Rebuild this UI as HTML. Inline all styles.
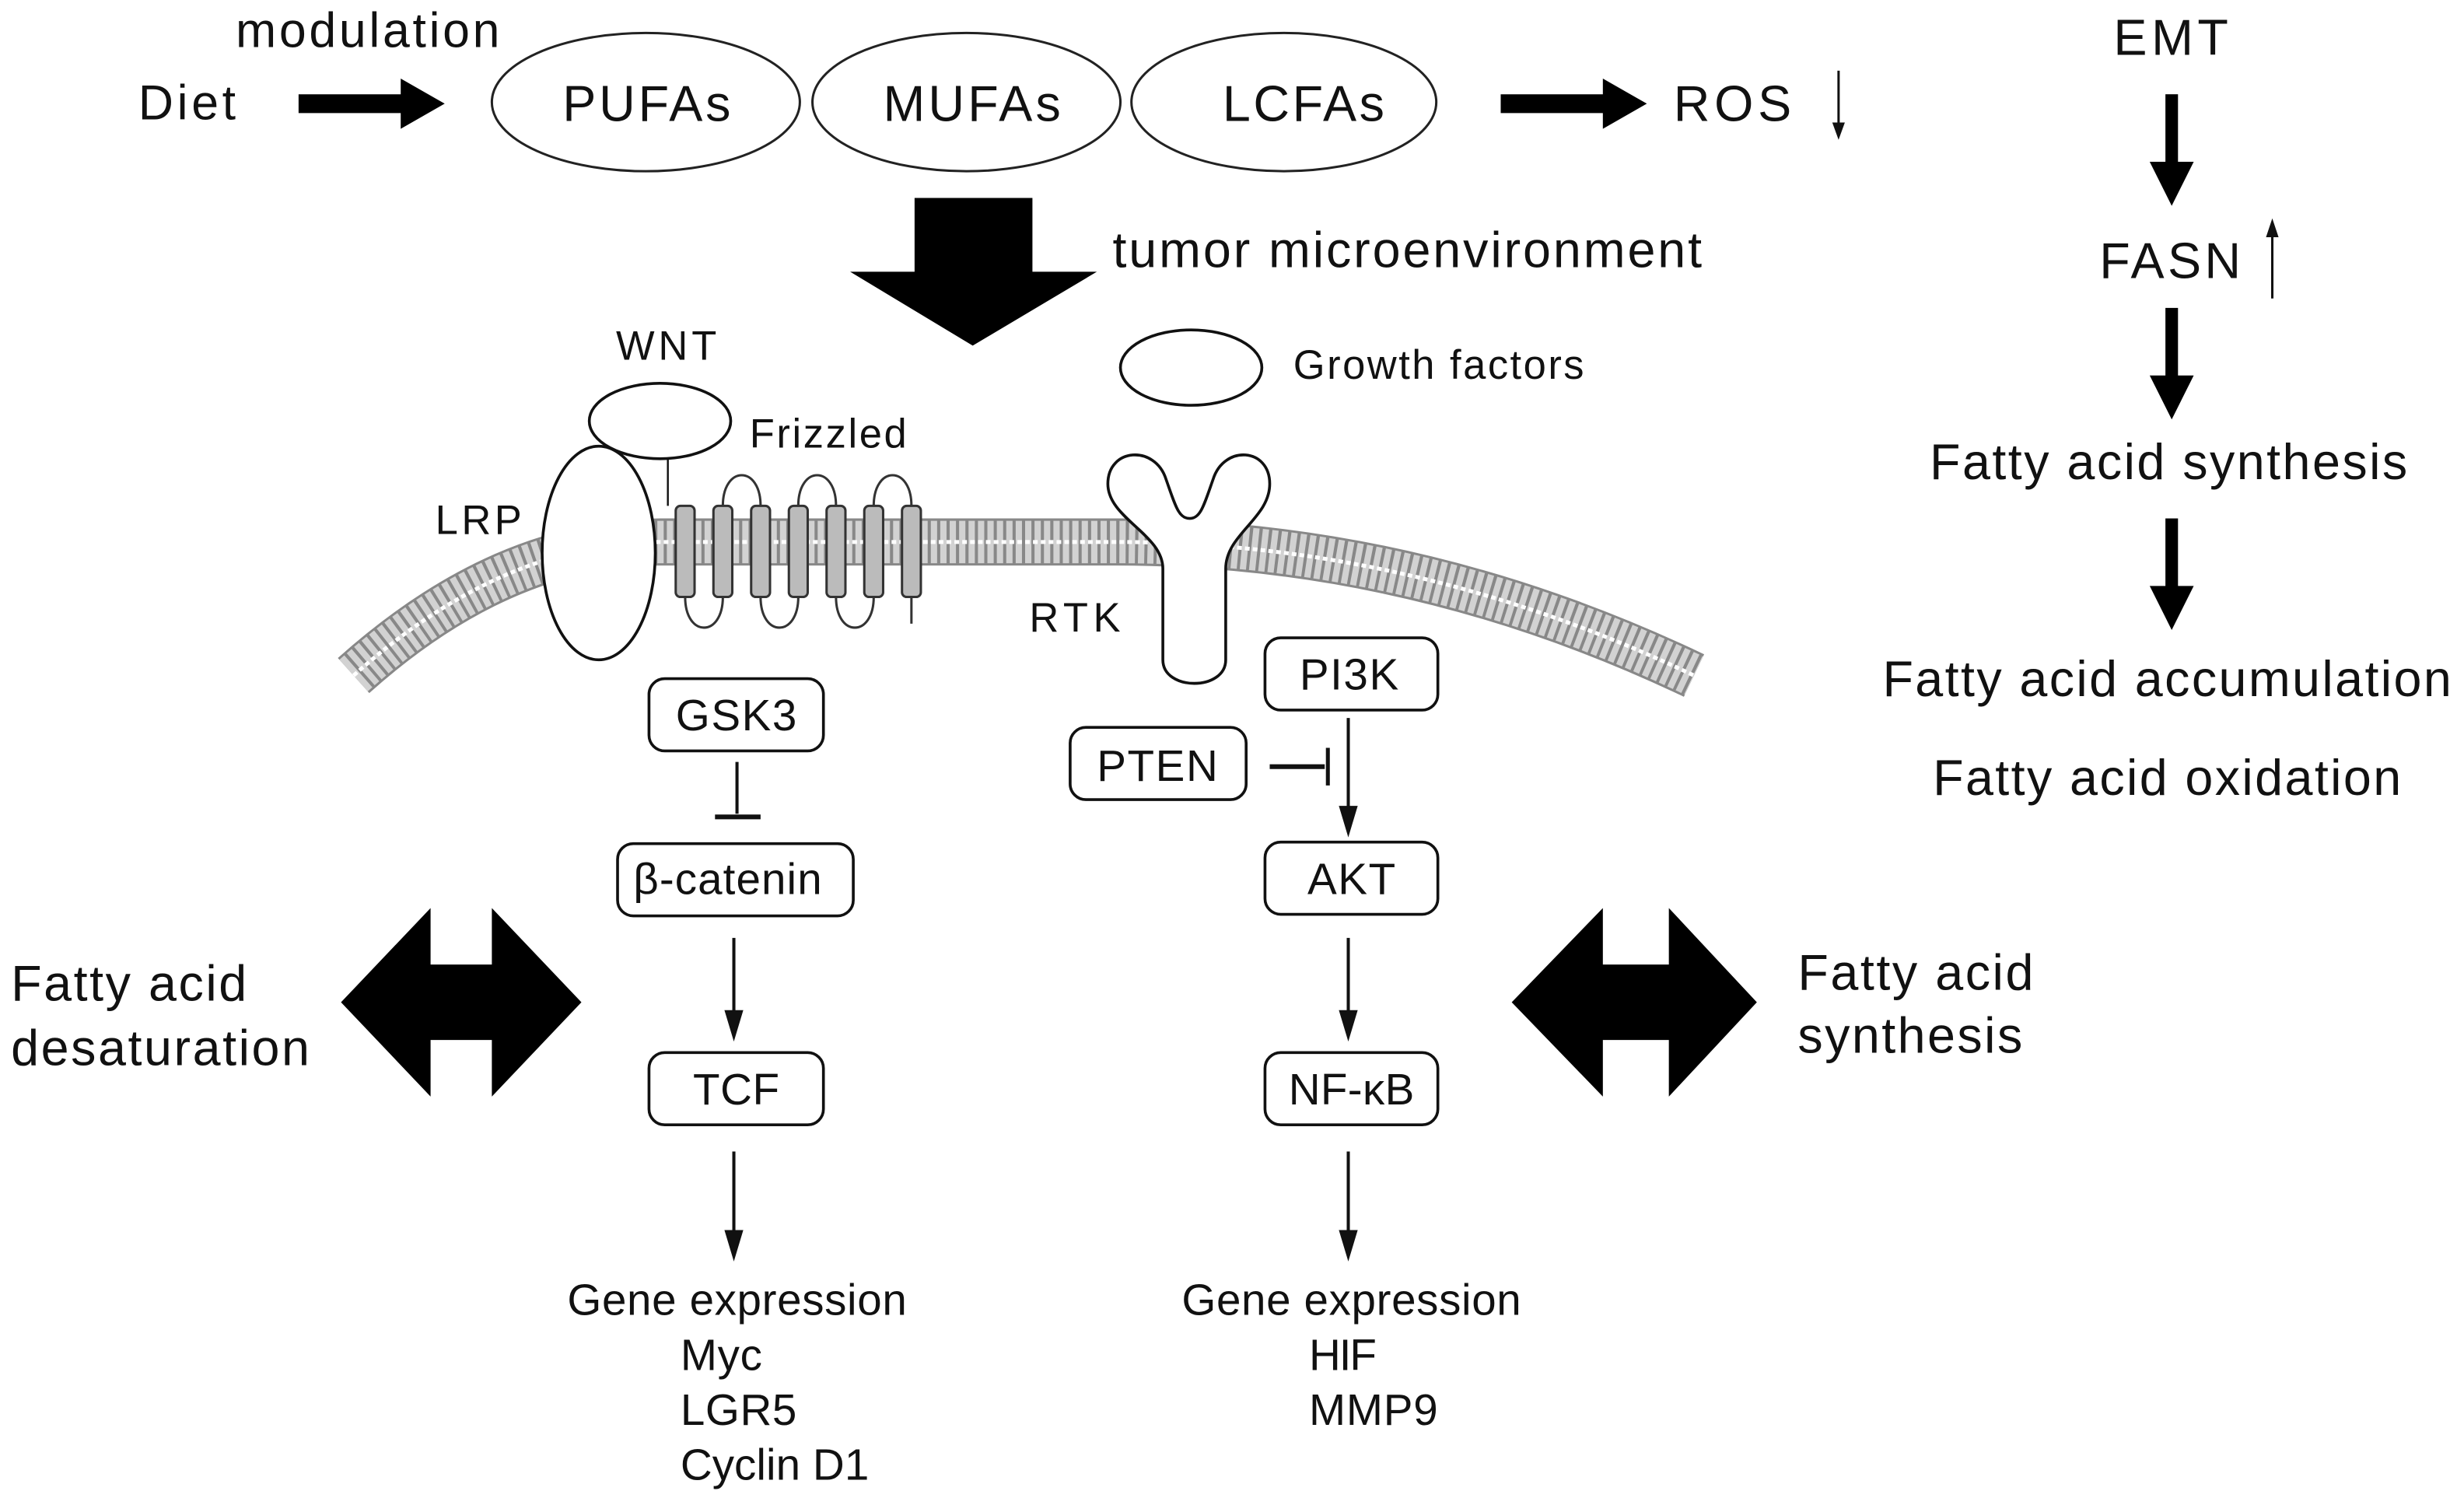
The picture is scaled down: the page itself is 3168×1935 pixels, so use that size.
<!DOCTYPE html>
<html><head><meta charset="utf-8"><style>
html,body{margin:0;padding:0;background:#fff;}
svg{display:block;}
text{font-family:"Liberation Sans",sans-serif;fill:#111;}
</style></head><body>
<svg width="3168" height="1935" viewBox="0 0 1568 958" preserveAspectRatio="none" xmlns="http://www.w3.org/2000/svg">
<rect width="1568" height="958" fill="#fff"/>
<!-- top row -->
<text x="150" y="30" font-size="31" textLength="168">modulation</text>
<text x="88" y="76" font-size="31" textLength="62">Diet</text>
<polygon points="190,60 255,60 255,50 283,66 255,82 255,72 190,72" fill="#000"/>
<ellipse cx="411" cy="65" rx="98" ry="44" fill="none" stroke="#222" stroke-width="1.5"/>
<ellipse cx="615" cy="65" rx="98" ry="44" fill="none" stroke="#222" stroke-width="1.5"/>
<ellipse cx="817" cy="65" rx="97" ry="44" fill="none" stroke="#222" stroke-width="1.5"/>
<text x="358" y="77" font-size="32" textLength="107">PUFAs</text>
<text x="562" y="77" font-size="32" textLength="113">MUFAs</text>
<text x="778" y="77" font-size="32" textLength="103">LCFAs</text>
<polygon points="955,60 1020,60 1020,50 1048,66 1020,82 1020,72 955,72" fill="#000"/>
<text x="1065" y="77" font-size="32" textLength="75">ROS</text>
<line x1="1170" y1="45" x2="1170" y2="86" stroke="#111" stroke-width="1.5"/>
<polygon points="1166,78 1174,78 1170,89" fill="#111"/>
<!-- right column -->
<text x="1345" y="35" font-size="32" textLength="73">EMT</text>
<rect x="1378" y="60" width="8" height="45" fill="#000"/><polygon points="1368,103 1396,103 1382,131" fill="#000"/>
<text x="1336" y="177" font-size="32" textLength="90">FASN</text>
<line x1="1446" y1="190" x2="1446" y2="145" stroke="#111" stroke-width="1.5"/>
<polygon points="1442,151 1450,151 1446,139" fill="#111"/>
<rect x="1378" y="196" width="8" height="45" fill="#000"/><polygon points="1368,239 1396,239 1382,267" fill="#000"/>
<text x="1228" y="305" font-size="32" textLength="304">Fatty acid synthesis</text>
<rect x="1378" y="330" width="8" height="45" fill="#000"/><polygon points="1368,373 1396,373 1382,401" fill="#000"/>
<text x="1198" y="443" font-size="32" textLength="362">Fatty acid accumulation</text>
<text x="1230" y="506" font-size="32" textLength="298">Fatty acid oxidation</text>
<!-- big down arrow -->
<polygon points="582,126 657,126 657,173 698,173 619,220 541,173 582,173" fill="#000"/>
<text x="708" y="170" font-size="32" textLength="375">tumor microenvironment</text>
<!-- membrane -->
<path d="M225,430 Q320,345 420,345 L710,345 Q900,345 1078,430" fill="none" stroke="#888" stroke-width="30"/>
<path d="M225,430 Q320,345 420,345 L710,345 Q900,345 1078,430" fill="none" stroke="#d2d2d2" stroke-width="27" stroke-dasharray="4 2"/>
<path d="M225,430 Q320,345 420,345 L710,345 Q900,345 1078,430" fill="none" stroke="#fff" stroke-width="2.5" stroke-dasharray="3 2"/>
<!-- WNT / LRP / Frizzled -->
<text x="392" y="229" font-size="26" textLength="64">WNT</text>
<ellipse cx="381" cy="352" rx="36" ry="68" fill="#fff" stroke="#111" stroke-width="1.8"/>
<text x="277" y="340" font-size="26" textLength="55">LRP</text>
<ellipse cx="420" cy="268" rx="45" ry="24" fill="#fff" stroke="#111" stroke-width="1.8"/>
<text x="477" y="285" font-size="26" textLength="100">Frizzled</text>
<line x1="425" y1="292" x2="425" y2="322" stroke="#111" stroke-width="1.2"/>
<g fill="#bbb" stroke="#333" stroke-width="1.5">
<path d="M460,322 C460,296 484,296 484,322" fill="none"/>
<path d="M508,322 C508,296 532,296 532,322" fill="none"/>
<path d="M556,322 C556,296 580,296 580,322" fill="none"/>
<path d="M436,380 C436,406 460,406 460,380" fill="none"/>
<path d="M484,380 C484,406 508,406 508,380" fill="none"/>
<path d="M532,380 C532,406 556,406 556,380" fill="none"/>
<rect x="430" y="322" width="12" height="58" rx="3"/>
<rect x="454" y="322" width="12" height="58" rx="3"/>
<rect x="478" y="322" width="12" height="58" rx="3"/>
<rect x="502" y="322" width="12" height="58" rx="3"/>
<rect x="526" y="322" width="12" height="58" rx="3"/>
<rect x="550" y="322" width="12" height="58" rx="3"/>
<rect x="574" y="322" width="12" height="58" rx="3"/>
</g>
<line x1="580" y1="380" x2="580" y2="397" stroke="#333" stroke-width="1.5"/>
<!-- growth factors / RTK -->
<ellipse cx="758" cy="234" rx="45" ry="24" fill="#fff" stroke="#111" stroke-width="1.8"/>
<text x="823" y="241" font-size="26" textLength="185">Growth factors</text>
<path d="M740,420 L740,362 C740,340 705,330 705,308 C705,285 735,283 742,305 C748,322 750,330 757,330 C764,330 766,322 772,305 C779,283 808,285 808,308 C808,330 780,340 780,362 L780,420 C780,440 740,440 740,420 Z" fill="#fff" stroke="#111" stroke-width="1.8"/>
<text x="655" y="402" font-size="26" textLength="58">RTK</text>
<!-- boxes -->
<g fill="#fff" stroke="#111" stroke-width="1.8">
<rect x="413" y="432" width="111" height="46" rx="10"/>
<rect x="393" y="537" width="150" height="46" rx="10"/>
<rect x="413" y="670" width="111" height="46" rx="10"/>
<rect x="805" y="406" width="110" height="46" rx="10"/>
<rect x="681" y="463" width="112" height="46" rx="10"/>
<rect x="805" y="536" width="110" height="46" rx="10"/>
<rect x="805" y="670" width="110" height="46" rx="10"/>
</g>
<g font-size="28">
<text x="430" y="465" textLength="77">GSK3</text>
<text x="403" y="569" textLength="120">β-catenin</text>
<text x="441" y="703" textLength="55">TCF</text>
<text x="827" y="439" textLength="63">PI3K</text>
<text x="698" y="497" textLength="77">PTEN</text>
<text x="832" y="569" textLength="56">AKT</text>
<text x="820" y="703" textLength="80">NF-κB</text>
</g>
<!-- connectors -->
<g stroke="#111" stroke-width="2" fill="none">
<line x1="469" y1="485" x2="469" y2="518"/>
<line x1="455" y1="520" x2="484" y2="520" stroke-width="3"/>
<line x1="467" y1="597" x2="467" y2="645"/>
<line x1="467" y1="733" x2="467" y2="785"/>
<line x1="858" y1="457" x2="858" y2="515"/>
<line x1="808" y1="488" x2="843" y2="488" stroke-width="3"/>
<line x1="845" y1="476" x2="845" y2="500" stroke-width="2.5"/>
<line x1="858" y1="597" x2="858" y2="645"/>
<line x1="858" y1="733" x2="858" y2="785"/>
</g>
<g fill="#111">
<polygon points="461,643 473,643 467,663"/>
<polygon points="461,783 473,783 467,803"/>
<polygon points="852,513 864,513 858,533"/>
<polygon points="852,643 864,643 858,663"/>
<polygon points="852,783 864,783 858,803"/>
</g>
<!-- gene expression -->
<g font-size="28">
<text x="361" y="837" textLength="216">Gene expression</text>
<text x="433" y="872" textLength="52">Myc</text>
<text x="433" y="907" textLength="74">LGR5</text>
<text x="433" y="942" textLength="120">Cyclin D1</text>
<text x="752" y="837" textLength="216">Gene expression</text>
<text x="833" y="872" textLength="43">HIF</text>
<text x="833" y="907" textLength="82">MMP9</text>
</g>
<!-- double arrows -->
<polygon points="217,638 274,578 274,614 313,614 313,578 370,638 313,698 313,662 274,662 274,698" fill="#000"/>
<polygon points="962,638 1020,578 1020,614 1062,614 1062,578 1118,638 1062,698 1062,662 1020,662 1020,698" fill="#000"/>
<text x="7" y="637" font-size="32" textLength="150">Fatty acid</text>
<text x="7" y="678" font-size="32" textLength="190">desaturation</text>
<text x="1144" y="630" font-size="32" textLength="150">Fatty acid</text>
<text x="1144" y="670" font-size="32" textLength="143">synthesis</text>
</svg>
</body></html>
